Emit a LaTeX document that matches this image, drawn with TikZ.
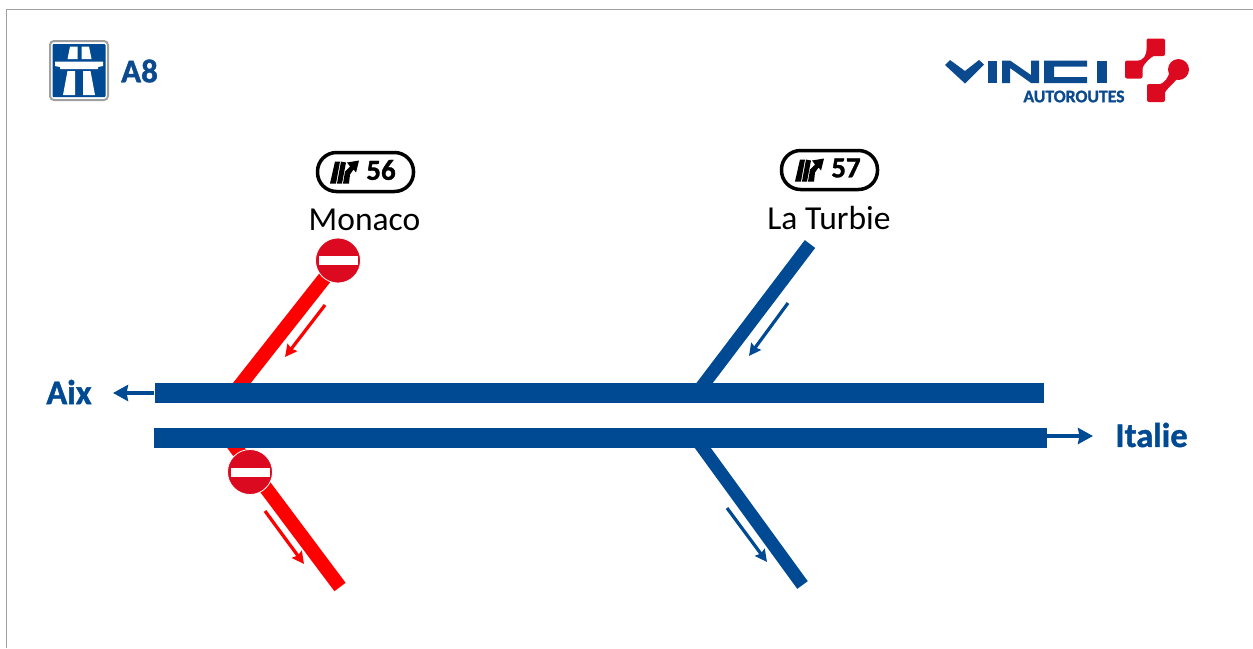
\documentclass[tikz,border=0pt]{standalone}
\usepackage{fontspec}
\setmainfont{Carlito}
\newfontfamily\heavy[FakeBold=1.2]{Carlito Bold}
\usetikzlibrary{arrows.meta}
\definecolor{roadblue}{HTML}{004A93}
\definecolor{signred}{HTML}{DC0A20}
\definecolor{vinciblue}{HTML}{0B4A8F}
\definecolor{framegray}{HTML}{A0A0A0}
\tikzset{
  road/.style={draw=none,fill=roadblue},
  ramp/.style={line width=#1,line cap=butt},
  small/.style={line width=3.2pt,-{Stealth[length=12pt,width=12pt,inset=1.5pt]}},
  big/.style={roadblue,line width=4pt,-{Stealth[length=15pt,width=16pt,inset=1.5pt]}},
  place/.style={font=\fontsize{33.5}{36}\selectfont,text=black,inner sep=0pt},
  dest/.style={font=\fontsize{34.5}{36}\heavy,text=roadblue,inner sep=0pt},
  exitbox/.style={draw=black,line width=3.5pt,rounded corners=19pt,minimum width=96pt,minimum height=39pt,inner sep=0pt},
  num/.style={font=\fontsize{29}{32}\heavy,text=black,inner sep=0pt},
  lane/.style={fill=white}
}
\newcommand{\exiticon}[2]{%
  \begin{scope}[shift={(#1,#2)}]
    \fill (-8,-10) -- (-3,-10) -- (-7,12) -- (-13,12) -- cycle;
    \fill (-2,-10) -- (3,-9) -- (-1,12) -- (-6,12) -- cycle;
    \fill (0,12) -- (2,0) -- (7,-5) -- (4,-9) -- (16,-11) -- (13,1) -- (10.5,-2) -- (7,3) -- (6,12) -- cycle;
  \end{scope}}
\newcommand{\noentry}[3]{%
  \node[circle,fill=signred,draw=white,line width=.8pt,minimum size=45pt,inner sep=0pt] (#3) at (#1,#2) {};
  \fill[white] (#1-19.5,#2-4.5) rectangle (#1+19.5,#2+4.5);}
\begin{document}
\begin{tikzpicture}[x=1pt,y=-1pt]
\useasboundingbox (0,0) rectangle (1253,648);
\fill[white] (0,0) rectangle (1253,648);
\draw[framegray,line width=1.2pt] (6.5,648) -- (6.5,9.5) -- (1253,9.5);

% motorway sign
\node[draw=framegray,fill=white,line width=2pt,rounded corners=4pt,minimum width=58pt,minimum height=59pt,inner sep=0pt] (sign) at (79,70.5) {};
\node[fill=roadblue,minimum width=53pt,minimum height=53pt,rounded corners=1pt,inner sep=0pt] (signin) at (79,70.5) {};
\fill[lane] (55,61.5) -- (103,61.5) -- (103,66) -- (98,67) -- (98,69) -- (60,69) -- (60,67) -- (55,66) -- cycle;
\fill[lane] (70,46.5) -- (77.5,46.5) -- (77.5,59) -- (67.5,59) -- cycle;
\fill[lane] (81.5,46.5) -- (89,46.5) -- (91.5,59) -- (81.5,59) -- cycle;
\fill[lane] (67.5,71) -- (75,71) -- (75,95) -- (63,95) -- cycle;
\fill[lane] (83,71) -- (90.5,71) -- (95,95) -- (83,95) -- cycle;
\node[font=\fontsize{33}{36}\heavy,text=vinciblue,inner sep=0pt] (a8) at (139.5,71) {A8};

% VINCI logo
\fill[vinciblue] (945,65) -- (950,60) -- (965,71) -- (979,60) -- (984,64.5) -- (965,83.5) -- cycle;
\fill[vinciblue] (988,60.5) rectangle (996.5,83);
\fill[vinciblue] (1002,60.5) -- (1010,60.5) -- (1031,75) -- (1031,60.5) -- (1039,60.5) -- (1039,83) -- (1031,83) -- (1010,68) -- (1010,83) -- (1002,83) -- cycle;
\fill[vinciblue] (1044,60.5) -- (1087,60.5) -- (1087,66.5) -- (1054,66.5) -- (1054,77) -- (1087,77) -- (1087,83) -- (1044,83) -- cycle;
\fill[vinciblue] (1097,60.5) rectangle (1107,83);
\node[font=\fontsize{17.7}{18}\heavy,text=vinciblue,inner sep=0pt] (vinci) at (1074,96.5) {AUTOROUTES};
\fill[signred,rounded corners=2pt] (1125,60.5) rectangle (1142.5,78.5);
\fill[signred,rounded corners=2pt] (1146.5,38.5) rectangle (1165,56);
\fill[signred,rounded corners=2pt] (1147,84) rectangle (1165,102);
\fill[signred] (1178.5,69.5) circle (10.5);
\fill[signred] (1137,61) .. controls (1144,60) and (1146,56) .. (1147,48) -- (1155,55) .. controls (1150,58) and (1145,62) .. (1142,69) -- cycle;
\fill[signred] (1158,85) .. controls (1165,83) and (1168,78) .. (1170,71) -- (1177,79) .. controls (1173,84) and (1168,87) .. (1164,94) -- cycle;

% red ramps (drawn under roads)
\coordinate (m1) at (338,261);
\coordinate (m2) at (234,393);
\draw[ramp=14pt,red] (m1) -- (m2);
\coordinate (s1) at (233,444);
\coordinate (s2) at (340,587);
\draw[ramp=14pt,red] (s1) -- (s2);
% blue ramps
\coordinate (t1) at (810,244);
\coordinate (t2) at (697,393);
\draw[ramp=13pt,roadblue] (t1) -- (t2);
\coordinate (u1) at (697,440);
\coordinate (u2) at (802.5,585);
\draw[ramp=13pt,roadblue] (u1) -- (u2);

% carriageways
\node[road,minimum width=889pt,minimum height=20pt,inner sep=0pt] (upper) at (599,393) {};
\node[road,minimum width=893pt,minimum height=20pt,inner sep=0pt] (lower) at (600.5,437.5) {};

% direction arrows
\coordinate (aixtip) at (113,393);
\draw[big] (upper.west) -- (aixtip);
\coordinate (ittip) at (1093,436);
\draw[big] (lower.east |- ittip) -- (ittip);
\node[dest] (aix) at (69,392) {Aix};
\node[dest] (italie) at (1151.5,435) {Italie};

% traffic arrows
\coordinate (a1) at (325,305); \coordinate (a2) at (285,357);
\draw[small,red] (a1) -- (a2);
\coordinate (b1) at (265,511); \coordinate (b2) at (304,564);
\draw[small,red] (b1) -- (b2);
\coordinate (c1) at (788,303); \coordinate (c2) at (749,356);
\draw[small,roadblue] (c1) -- (c2);
\coordinate (d1) at (727,508); \coordinate (d2) at (767,562);
\draw[small,roadblue] (d1) -- (d2);

% no-entry signs
\noentry{338}{260.5}{ne1}
\noentry{250}{472}{ne2}

% exits
\node[exitbox] (x56) at (365.5,172) {};
\exiticon{343}{171.5}
\node[num] (n56) at (381,170) {56};
\node[exitbox] (x57) at (829.5,170) {};
\exiticon{808}{169.5}
\node[num] (n57) at (846,168) {57};
\node[place] (monaco) at (364.5,220) {Monaco};
\node[place] (turbie) at (829,218) {La Turbie};
\end{tikzpicture}
\end{document}
